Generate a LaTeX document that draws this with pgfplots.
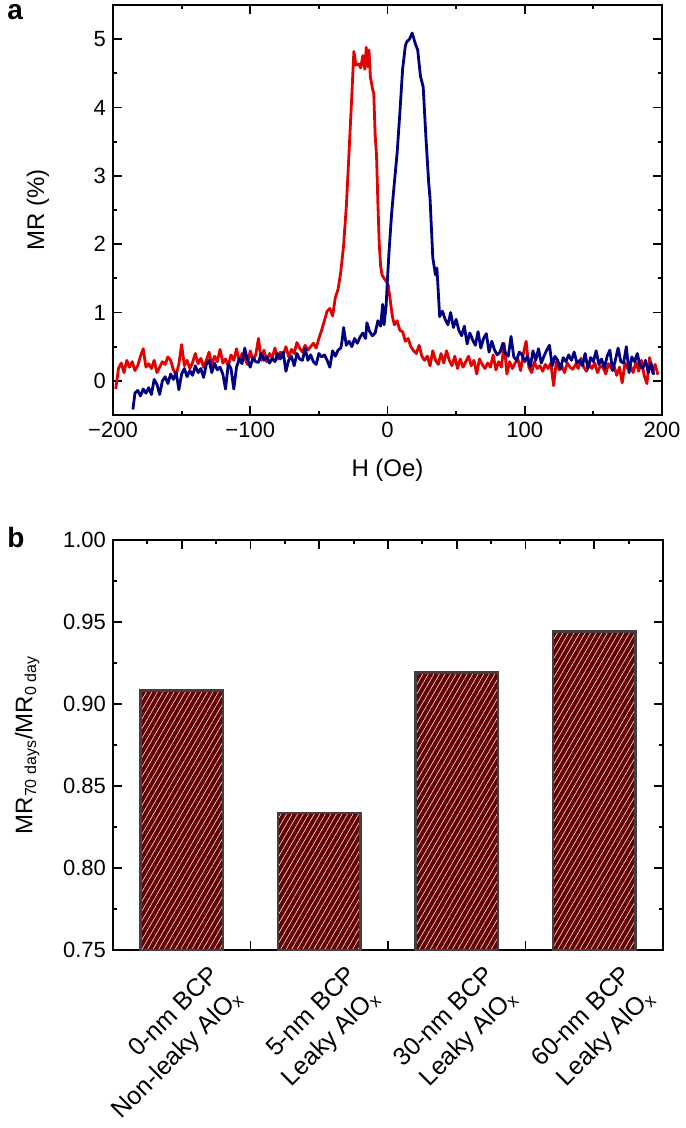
\documentclass[border=0pt]{standalone}
\usepackage{fontspec}
\setmainfont{Liberation Sans}
\usepackage{pgfplots}
\pgfplotsset{compat=1.18}
\usetikzlibrary{patterns.meta}

\definecolor{mrred}{RGB}{226,0,0}
\definecolor{mrblue}{RGB}{0,0,128}
\definecolor{barred}{RGB}{100,0,0}
\definecolor{bargray}{RGB}{64,64,64}

\pgfplotsset{
  panel/.style={
    scale only axis,
    axis line style={line width=1.1pt},
    tick style={line width=0.9pt, black},
    major tick length=4.5pt,
    minor tick length=2.2pt,
    tick align=inside,
    tick label style={font=\fontsize{11}{13}\selectfont},
    label style={font=\fontsize{12}{14}\selectfont},
    /pgf/number format/assume math mode=true,
  },
}

\begin{document}
\begin{tikzpicture}

% ---------------- panel a
\begin{axis}[panel,
  at={(56.5pt,-207.5pt)}, anchor=south west,
  width=274.5pt, height=205pt,
  xmin=-200, xmax=200, ymin=-0.5, ymax=5.5,
  xtick={-200,-100,0,100,200},
  xticklabels={−200,−100,0,100,200},
  minor xtick={-150,-50,50,150},
  ytick={0,1,2,3,4,5},
  yticklabels={0,1,2,3,4,5},
  minor ytick={0.5,1.5,2.5,3.5,4.5},
  xlabel={H (Oe)}, ylabel={MR (\%)},
  xlabel style={at={(axis description cs:0.5,-0.135)}, anchor=center},
  ylabel style={at={(axis description cs:-0.137,0.5)}, anchor=center},
]
  % red sweep
  \addplot[mrred, line width=1.4pt, line join=round] coordinates {
    (-198,-0.12) (-196,0.18) (-194,0.26) (-192,0.12) (-190,0.30) (-188,0.20)
    (-186,0.28) (-184,0.15) (-182,0.22) (-180,0.36) (-178,0.47) (-176,0.20)
    (-174,0.25) (-172,0.18) (-170,0.30) (-168,0.12) (-166,0.20) (-164,0.28)
    (-162,0.24) (-160,0.35) (-158,0.30) (-156,0.16) (-154,0.08) (-152,0.25)
    (-150,0.53) (-148,0.22) (-146,0.30) (-144,0.18) (-142,0.27) (-140,0.40)
    (-138,0.25) (-136,0.33) (-134,0.20) (-132,0.30) (-130,0.42) (-128,0.24)
    (-126,0.36) (-124,0.28) (-122,0.46) (-120,0.26) (-118,0.32) (-116,0.22)
    (-114,0.38) (-112,0.30) (-110,0.47) (-108,0.28) (-106,0.40) (-104,0.33)
    (-102,0.24) (-100,0.44) (-98,0.30) (-96,0.38) (-94,0.62) (-92,0.30)
    (-90,0.45) (-88,0.28) (-86,0.40) (-84,0.34) (-82,0.48) (-80,0.32)
    (-78,0.42) (-76,0.38) (-74,0.50) (-72,0.35) (-70,0.46) (-68,0.40)
    (-66,0.56) (-64,0.48) (-62,0.42) (-60,0.52) (-58,0.45) (-56,0.50)
    (-54,0.55) (-52,0.48) (-50,0.62) (-48,0.74) (-46,0.88) (-44,1.02)
    (-42,1.06) (-40,0.95) (-38,1.22) (-36,1.34) (-34,1.60) (-32,1.98)
    (-30,2.55) (-28,3.35) (-26,4.18) (-24.5,4.82) (-23,4.62) (-21,4.64)
    (-19.5,4.58) (-18,4.76) (-16.5,4.56) (-15.5,4.88) (-14.5,4.60) (-13.5,4.84)
    (-12.5,4.45) (-11,4.28) (-10,4.20) (-9,3.60) (-8,3.30) (-7,2.60)
    (-6,2.00) (-5,1.68) (-4,1.55) (-2.5,1.50) (-1,1.46) (0.5,1.40)
    (2,1.18) (3.5,0.95) (5,0.82) (7,0.88) (9,0.74) (11,0.72)
    (13,0.58) (15,0.62) (17,0.50) (19,0.44) (21,0.40) (23,0.52)
    (25,0.36) (27,0.30) (29,0.36) (31,0.22) (33,0.44) (35,0.30)
    (37,0.24) (39,0.40) (41,0.26) (43,0.44) (45,0.30) (47,0.22)
    (49,0.36) (51,0.18) (53,0.32) (55,0.20) (57,0.28) (59,0.36)
    (61,0.22) (63,0.30) (65,0.10) (67,0.32) (69,0.24) (71,0.18)
    (73,0.26) (75,0.20) (77,0.38) (79,0.16) (81,0.28) (83,0.20)
    (85,0.55) (87,0.10) (89,0.28) (91,0.18) (93,0.26) (95,0.32)
    (97,0.15) (99,0.40) (101,0.58) (103,0.20) (105,0.12) (107,0.28)
    (109,0.18) (111,0.22) (113,0.14) (115,0.24) (117,0.18) (119,0.26)
    (121,-0.07) (123,0.28) (125,0.16) (127,0.22) (129,0.12) (131,0.26)
    (133,0.20) (135,0.17) (137,0.24) (139,0.18) (141,0.33) (143,0.20)
    (145,0.14) (147,0.24) (149,0.18) (151,0.26) (153,0.12) (155,0.22)
    (157,0.20) (159,0.10) (161,0.25) (163,0.18) (165,0.22) (167,0.08)
    (169,0.20) (171,-0.03) (173,0.26) (175,0.18) (177,0.22) (179,0.12)
    (181,0.28) (183,0.14) (185,0.30) (187,0.08) (189,-0.04) (191,0.34)
    (193,0.12) (195,0.24) (197,0.09)
  };
  % blue sweep
  \addplot[mrblue, line width=1.4pt, line join=round] coordinates {
    (-185.5,-0.42) (-184,-0.18) (-182,-0.14) (-180,-0.22) (-178,-0.12)
    (-176,-0.18) (-174,-0.10) (-172,-0.20) (-170,0.02) (-168,-0.05)
    (-166,-0.20) (-164,0.00) (-162,0.06) (-160,-0.04) (-158,0.10)
    (-156,0.02) (-154,0.12) (-152,-0.13) (-150,0.10) (-148,0.18)
    (-146,0.06) (-144,0.15) (-142,0.08) (-140,0.22) (-138,0.12)
    (-136,0.18) (-134,0.05) (-132,0.24) (-130,0.30) (-128,0.12)
    (-126,0.26) (-124,0.16) (-122,0.20) (-120,0.10) (-118,-0.12)
    (-116,0.25) (-114,0.18) (-112,-0.12) (-110,0.20) (-108,0.32)
    (-106,0.25) (-104,0.48) (-102,0.30) (-100,0.20) (-98,0.34)
    (-96,0.28) (-94,0.27) (-92,0.40) (-90,0.30) (-88,0.35)
    (-86,0.26) (-84,0.33) (-82,0.28) (-80,0.40) (-78,0.32)
    (-76,0.42) (-74,0.14) (-72,0.30) (-70,0.36) (-68,0.22)
    (-66,0.40) (-64,0.32) (-62,0.30) (-60,0.47) (-58,0.30)
    (-56,0.38) (-54,0.28) (-52,0.24) (-50,0.40) (-48,0.35)
    (-46,0.38) (-44,0.30) (-42,0.20) (-40,0.44) (-38,0.36)
    (-36,0.45) (-34,0.48) (-33,0.60) (-32,0.78) (-30,0.52)
    (-28,0.58) (-26,0.50) (-24,0.62) (-22,0.55) (-20,0.64)
    (-18,0.70) (-16,0.62) (-15,0.85) (-13,0.72) (-11,0.66)
    (-9,0.70) (-7,0.88) (-5,0.80) (-3.5,1.12) (-2.5,0.82)
    (-1,1.10) (0,1.50) (1,1.85) (3,2.45) (5,2.90)
    (7,3.33) (9,3.92) (11,4.56) (13,4.90) (14,4.96)
    (16,5.00) (18,5.09) (20,4.95) (22,4.84) (24,4.46)
    (26,4.30) (28,3.56) (30,2.90) (31,2.67) (33,1.80)
    (35,1.55) (36,1.65) (37,1.30) (38,0.94) (40,1.02)
    (42,0.90) (44,0.82) (46,1.00) (48,0.78) (50,0.90)
    (52,0.74) (54,0.66) (56,0.80) (58,0.54) (60,0.70)
    (62,0.60) (64,0.52) (66,0.72) (68,0.48) (70,0.62)
    (72,0.69) (74,0.42) (76,0.58) (78,0.45) (80,0.38)
    (82,0.42) (84,0.55) (86,0.40) (88,0.36) (90,0.65)
    (92,0.35) (94,0.30) (96,0.42) (98,0.38) (100,0.28)
    (102,0.36) (104,0.20) (106,0.44) (108,0.30) (110,0.47)
    (112,0.26) (114,0.36) (116,0.45) (118,0.52) (120,0.22)
    (122,0.36) (124,0.30) (126,0.17) (128,0.34) (130,0.28)
    (132,0.38) (134,0.30) (136,0.42) (138,0.26) (140,0.30)
    (142,0.22) (144,0.40) (146,0.18) (148,0.34) (150,0.28)
    (152,0.44) (154,0.24) (156,0.32) (158,0.18) (160,0.36)
    (162,0.45) (164,0.15) (166,0.30) (168,0.48) (170,0.28)
    (172,0.26) (174,0.50) (176,0.12) (178,0.35) (180,0.28)
    (182,0.40) (184,0.22) (186,0.18) (188,0.30) (190,0.12)
    (192,0.26) (194,0.09)
  };
\end{axis}

% ---------------- panel b
\begin{axis}[panel,
  at={(56.5pt,-475pt)}, anchor=south west,
  width=275pt, height=205pt,
  xmin=-0.5, xmax=3.5, ymin=0.75, ymax=1.0,
  xtick={0,1,2,3},
  xticklabels={
    {0-nm BCP\\Non-leaky AlO\textsubscript{x}},
    {5-nm BCP\\Leaky AlO\textsubscript{x}},
    {30-nm BCP\\Leaky AlO\textsubscript{x}},
    {60-nm BCP\\Leaky AlO\textsubscript{x}}},
  extra x ticks={0.5,1.5,2.5}, extra x tick labels={},
  minor xtick={-0.25,0.25,0.75,1.25,1.75,2.25,2.75,3.25},
  xticklabel style={xshift=13pt, yshift=-2pt, rotate=45, anchor=north east, align=right,
    font=\fontsize{12.5}{16}\selectfont},
  ytick={0.75,0.80,0.85,0.90,0.95,1.00},
  yticklabels={0.75,0.80,0.85,0.90,0.95,1.00},
  minor ytick={0.775,0.825,0.875,0.925,0.975},
  ylabel={MR\textsubscript{70 days}/MR\textsubscript{0 day}},
  ylabel style={at={(axis description cs:-0.156,0.5)}, anchor=center},
]
  \addplot[ybar, bar width=0.6, draw=bargray, line width=1.4pt,
    preaction={fill=barred},
    preaction={pattern={Lines[angle=60,distance=2.4pt,line width=0.3pt]}, pattern color=white!90!red}]
    coordinates {(0,0.908) (1,0.8335) (2,0.919) (3,0.944)};
\end{axis}

\node[anchor=base west, inner sep=0, font=\fontsize{14}{16}\selectfont\bfseries] at (3.5pt,-10pt) {a};
\node[anchor=base west, inner sep=0, font=\fontsize{14}{16}\selectfont\bfseries] at (3.5pt,-273.5pt) {b};

\pgfresetboundingbox
\useasboundingbox (0,0) rectangle (342.5pt,-564pt);
\end{tikzpicture}
\end{document}
